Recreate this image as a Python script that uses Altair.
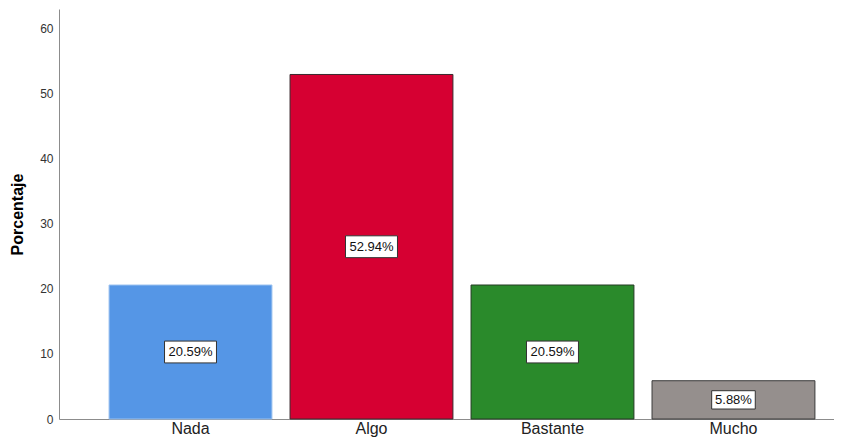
import altair as alt
import pandas as pd

categories = ["Nada", "Algo", "Bastante", "Mucho"]
values = [20.59, 52.94, 20.59, 5.88]
labels = ["20.59%", "52.94%", "20.59%", "5.88%"]
colors = ["#5596E6", "#D60032", "#2A8A2B", "#958F8D"]
strokes = ["#9cc2f0", "#3a2a2e", "#253a25", "#3a3a3a"]
box_sizes = [2700, 2700, 2700, 1900]

df = pd.DataFrame({
    "cat": categories,
    "val": values,
    "half": [v / 2 for v in values],
    "label": labels,
    "color": colors,
    "stroke": strokes,
    "bsize": box_sizes,
})

xscale = alt.Scale(domain=categories, paddingInner=0.1, paddingOuter=0.191, align=0.724)
yscale = alt.Scale(domain=[0, 63], nice=False)

x_enc = alt.X("cat:N", scale=xscale, sort=categories, title=None,
              axis=alt.Axis(labelAngle=0, ticks=False, domainColor="#8c8c8c",
                            labelFont="Liberation Sans", labelFontSize=16,
                            labelColor="#222222", labelPadding=1))

bars = alt.Chart(df).mark_bar(strokeWidth=1).encode(
    x=x_enc,
    y=alt.Y("val:Q", scale=yscale, title="Porcentaje",
            axis=alt.Axis(values=[0, 10, 20, 30, 40, 50, 60], ticks=False, grid=False,
                          domainColor="#8c8c8c", labelFont="Liberation Sans",
                          labelFontSize=12, labelColor="#333333", labelPadding=6,
                          titleFont="Liberation Sans", titleFontSize=16,
                          titleFontWeight="bold", titleColor="#000000", titlePadding=14)),
    fill=alt.Fill("color:N", scale=None),
    stroke=alt.Stroke("stroke:N", scale=None),
)

boxes = alt.Chart(df).mark_point(
    shape="M-1,-0.42L1,-0.42L1,0.42L-1,0.42Z", filled=True, fill="white",
    stroke="#333333", strokeWidth=1, opacity=1
).encode(
    x=alt.X("cat:N", scale=xscale, sort=categories),
    y=alt.Y("half:Q", scale=yscale),
    size=alt.Size("bsize:Q", scale=None),
)

texts = alt.Chart(df).mark_text(
    font="Liberation Sans", fontSize=13, color="#111111", baseline="middle", align="center"
).encode(
    x=alt.X("cat:N", scale=xscale, sort=categories),
    y=alt.Y("half:Q", scale=yscale),
    text="label:N",
)

chart = alt.layer(bars, boxes, texts).properties(
    width=775, height=410,
    autosize=alt.AutoSizeParams(type="none"),
    padding={"left": 51, "top": 1, "right": 0, "bottom": 18},
).configure_view(stroke=None).configure_axis(grid=False)

chart.save("out.html", embed_options={"renderer": "svg", "actions": False})
